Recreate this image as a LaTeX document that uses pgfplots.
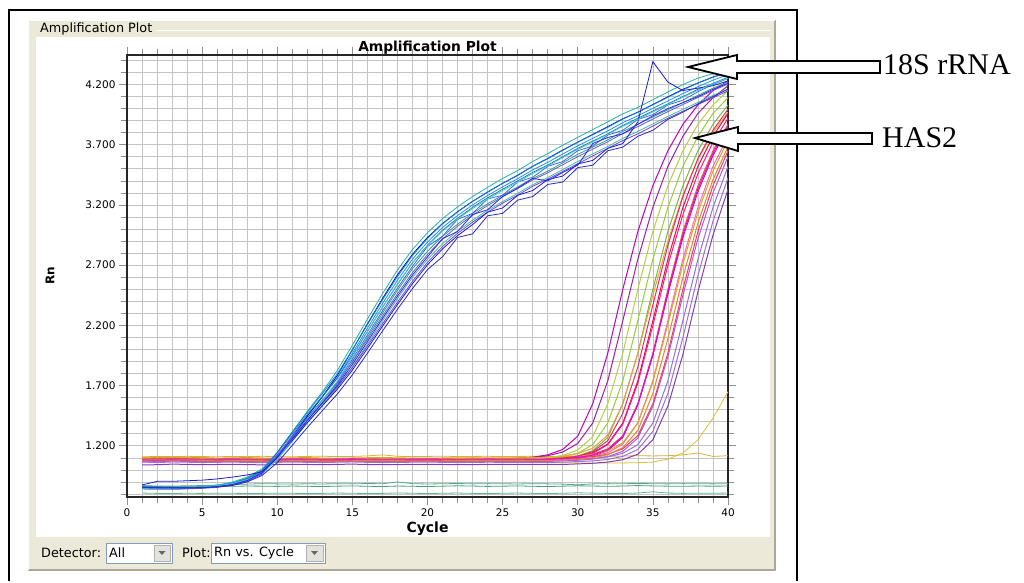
\documentclass[border=0pt]{standalone}
\usepackage{pgfplots}
\pgfplotsset{compat=1.18}
\usepackage{pgfplotstable}
\usetikzlibrary{backgrounds}
\usepackage{fontspec}
\setmainfont{DejaVu Sans}
\newfontfamily\timesfont{Liberation Serif}

\definecolor{panel}{HTML}{ECE9D8}
\definecolor{panelshadow}{HTML}{ACA899}
\definecolor{gridc}{HTML}{C4C4C4}
\definecolor{tickc}{HTML}{909090}
\definecolor{ctlborder}{HTML}{7F9DB9}
\definecolor{btnfill}{HTML}{E4E2DA}
% 18S rRNA curves
\definecolor{cS1}{HTML}{20B2AA}
\definecolor{cS2}{HTML}{1E90FF}
\definecolor{cS3}{HTML}{0000CD}
\definecolor{cS4}{HTML}{30A090}
\definecolor{cS5}{HTML}{0A84D8}
\definecolor{cS6}{HTML}{4169E1}
\definecolor{cS7}{HTML}{6A5ACD}
\definecolor{cS8}{HTML}{3CC0A0}
\definecolor{cS9}{HTML}{7B3FE4}
\definecolor{cS10}{HTML}{1C7FB5}
\definecolor{cS11}{HTML}{1A1AD0}
\definecolor{cS12}{HTML}{40C8D8}
\definecolor{cS13}{HTML}{2828E8}
\definecolor{cS14}{HTML}{2B2BB8}
% HAS2 curves
\definecolor{cH1}{HTML}{C000C0}
\definecolor{cH2}{HTML}{A020A0}
\definecolor{cH3}{HTML}{9ACD32}
\definecolor{cH4}{HTML}{7CB342}
\definecolor{cH5}{HTML}{E8A040}
\definecolor{cH6}{HTML}{DC143C}
\definecolor{cH7}{HTML}{FF1493}
\definecolor{cH8}{HTML}{D2691E}
\definecolor{cH9}{HTML}{C71585}
\definecolor{cH10}{HTML}{FF69B4}
\definecolor{cH11}{HTML}{DAA520}
\definecolor{cH12}{HTML}{BA55D3}
\definecolor{cH13}{HTML}{9370DB}
\definecolor{cH14}{HTML}{8040B0}
\definecolor{cH15}{HTML}{B8D040}
\definecolor{cH16}{HTML}{E04070}
\definecolor{cH17}{HTML}{E0306A}
\definecolor{cH18}{HTML}{F000F0}
\definecolor{cH19}{HTML}{F08030}
\definecolor{cH20}{HTML}{A070D0}
% flat curves
\definecolor{cF1}{HTML}{E0C030}
\definecolor{cF2}{HTML}{D8B040}
\definecolor{cF3}{HTML}{50A890}
\definecolor{cF4}{HTML}{60B890}
\definecolor{cF5}{HTML}{40A080}

\pgfplotstableread{
c a1 a2 a3 a4 a5 a6 a7 a8 a9 a10 a11 a12 a13 a14
1 0.857 0.853 0.843 0.865 0.855 0.850 0.846 0.866 0.856 0.861 0.875 0.847 0.856 0.852
2 0.855 0.851 0.841 0.862 0.852 0.847 0.843 0.863 0.855 0.860 0.905 0.845 0.853 0.850
3 0.857 0.851 0.841 0.860 0.850 0.845 0.841 0.861 0.852 0.857 0.905 0.847 0.851 0.851
4 0.860 0.854 0.844 0.862 0.852 0.847 0.843 0.861 0.850 0.855 0.910 0.851 0.851 0.852
5 0.864 0.858 0.850 0.864 0.857 0.851 0.847 0.864 0.853 0.858 0.915 0.858 0.854 0.853
6 0.875 0.868 0.860 0.870 0.866 0.860 0.855 0.870 0.860 0.866 0.925 0.868 0.862 0.858
7 0.898 0.890 0.882 0.886 0.888 0.882 0.873 0.885 0.876 0.888 0.940 0.886 0.878 0.870
8 0.940 0.930 0.920 0.918 0.930 0.922 0.912 0.915 0.905 0.930 0.958 0.920 0.912 0.900
9 1.010 0.995 0.980 0.975 0.998 0.990 0.975 0.972 0.965 0.995 0.985 0.975 0.975 0.955
10 1.143 1.117 1.103 1.090 1.147 1.110 1.125 1.085 1.120 1.140 1.100 1.087 1.105 1.060
11 1.316 1.283 1.276 1.250 1.313 1.270 1.277 1.237 1.264 1.300 1.244 1.253 1.257 1.204
12 1.486 1.448 1.446 1.410 1.478 1.430 1.431 1.391 1.412 1.460 1.392 1.418 1.411 1.352
13 1.648 1.604 1.608 1.560 1.634 1.580 1.576 1.536 1.552 1.610 1.532 1.574 1.556 1.492
14 1.826 1.768 1.786 1.710 1.798 1.730 1.720 1.680 1.690 1.760 1.670 1.738 1.700 1.630
15 2.036 1.968 1.996 1.900 1.998 1.920 1.895 1.855 1.849 1.950 1.829 1.938 1.875 1.789
16 2.252 2.176 2.212 2.100 2.206 2.120 2.084 2.044 2.028 2.150 2.008 2.146 2.064 1.968
17 2.462 2.381 2.422 2.300 2.411 2.320 2.276 2.236 2.212 2.350 2.192 2.351 2.256 2.152
18 2.660 2.575 2.620 2.490 2.605 2.510 2.462 2.422 2.393 2.540 2.373 2.545 2.442 2.333
19 2.830 2.750 2.790 2.670 2.780 2.690 2.638 2.598 2.566 2.720 2.546 2.720 2.618 2.506
20 2.970 2.892 2.930 2.815 2.922 2.855 2.789 2.749 2.723 2.865 2.703 2.862 2.769 2.663
21 3.086 3.013 3.046 2.940 3.043 2.940 2.918 2.878 2.855 2.990 2.835 2.983 2.920 2.770
22 3.184 3.112 3.144 3.040 3.142 3.080 3.023 2.983 2.965 3.090 2.945 3.082 2.980 2.930
23 3.270 3.200 3.230 3.130 3.230 3.130 3.114 3.074 3.057 3.180 3.037 3.170 3.120 2.960
24 3.346 3.278 3.306 3.210 3.308 3.250 3.195 3.155 3.140 3.260 3.140 3.248 3.160 3.110
25 3.420 3.350 3.380 3.280 3.380 3.280 3.268 3.228 3.215 3.330 3.175 3.320 3.270 3.130
26 3.485 3.418 3.445 3.350 3.448 3.390 3.336 3.296 3.281 3.400 3.280 3.388 3.340 3.240
27 3.561 3.491 3.521 3.420 3.521 3.430 3.408 3.368 3.355 3.470 3.320 3.461 3.420 3.270
28 3.626 3.553 3.586 3.480 3.583 3.520 3.467 3.427 3.414 3.530 3.410 3.523 3.400 3.370
29 3.696 3.623 3.656 3.550 3.653 3.560 3.534 3.494 3.478 3.600 3.440 3.593 3.470 3.390
30 3.761 3.691 3.721 3.620 3.721 3.650 3.601 3.561 3.542 3.670 3.540 3.661 3.530 3.510
31 3.826 3.753 3.786 3.680 3.783 3.690 3.664 3.624 3.607 3.730 3.570 3.723 3.710 3.530
32 3.890 3.815 3.850 3.740 3.845 3.780 3.725 3.685 3.670 3.790 3.670 3.785 3.760 3.650
33 3.956 3.883 3.916 3.810 3.913 3.820 3.793 3.753 3.735 3.860 3.710 3.853 3.790 3.680
34 4.010 3.940 3.970 3.870 3.970 3.910 3.850 3.810 3.790 3.920 3.890 3.910 3.870 3.770
35 4.074 4.002 4.034 3.930 4.032 3.950 3.913 3.873 3.855 3.980 4.390 3.972 3.940 3.820
36 4.138 4.064 4.098 3.990 4.094 4.030 3.975 3.935 3.920 4.040 4.220 4.034 4.000 3.910
37 4.200 4.125 4.160 4.050 4.155 4.070 4.034 3.994 3.978 4.100 4.150 4.095 4.050 3.970
38 4.253 4.182 4.213 4.110 4.212 4.140 4.092 4.052 4.034 4.160 4.170 4.152 4.100 4.040
39 4.290 4.236 4.262 4.170 4.260 4.200 4.150 4.110 4.090 4.210 4.190 4.206 4.160 4.100
40 4.310 4.282 4.304 4.220 4.300 4.250 4.203 4.163 4.146 4.260 4.230 4.252 4.210 4.160
}\tabS

\pgfplotstableread{
c h1 h2 h3 h4 h5 h6 h7 h8 h9 h10 h11 h12 h13 h14 h15 h16 h17 h18 h19 h20
1 1.089 1.087 1.084 1.072 1.099 1.082 1.084 1.087 1.079 1.082 1.104 1.067 1.084 1.042 1.084 1.087 1.083 1.079 1.081 1.066
2 1.092 1.088 1.087 1.073 1.102 1.083 1.087 1.088 1.082 1.083 1.107 1.068 1.087 1.043 1.087 1.088 1.086 1.080 1.084 1.061
3 1.089 1.093 1.084 1.078 1.099 1.088 1.084 1.093 1.079 1.088 1.104 1.073 1.084 1.048 1.084 1.093 1.083 1.085 1.081 1.066
4 1.091 1.091 1.086 1.076 1.101 1.086 1.086 1.091 1.081 1.086 1.106 1.071 1.086 1.046 1.086 1.091 1.085 1.083 1.083 1.064
5 1.087 1.088 1.082 1.073 1.097 1.083 1.082 1.088 1.077 1.083 1.102 1.068 1.082 1.043 1.082 1.088 1.081 1.080 1.079 1.061
6 1.083 1.090 1.078 1.075 1.093 1.085 1.078 1.090 1.073 1.085 1.098 1.070 1.078 1.045 1.078 1.090 1.077 1.082 1.075 1.063
7 1.085 1.092 1.080 1.077 1.095 1.087 1.080 1.092 1.075 1.087 1.100 1.072 1.080 1.047 1.080 1.092 1.079 1.084 1.077 1.065
8 1.087 1.089 1.082 1.074 1.097 1.084 1.082 1.089 1.077 1.084 1.102 1.069 1.082 1.044 1.082 1.089 1.081 1.081 1.079 1.062
9 1.084 1.087 1.079 1.072 1.094 1.082 1.079 1.087 1.074 1.082 1.099 1.067 1.079 1.042 1.079 1.087 1.078 1.079 1.076 1.060
10 1.082 1.090 1.077 1.075 1.092 1.085 1.077 1.090 1.072 1.085 1.097 1.070 1.077 1.045 1.077 1.090 1.076 1.082 1.074 1.063
11 1.085 1.092 1.080 1.077 1.095 1.087 1.080 1.092 1.075 1.087 1.100 1.072 1.080 1.047 1.080 1.092 1.079 1.084 1.077 1.065
12 1.087 1.090 1.082 1.075 1.097 1.085 1.082 1.090 1.077 1.085 1.102 1.070 1.082 1.045 1.082 1.090 1.081 1.082 1.079 1.063
13 1.083 1.088 1.078 1.073 1.093 1.083 1.078 1.088 1.073 1.083 1.098 1.068 1.078 1.043 1.078 1.088 1.077 1.080 1.075 1.061
14 1.081 1.091 1.076 1.076 1.091 1.086 1.076 1.091 1.071 1.086 1.096 1.071 1.076 1.046 1.076 1.091 1.075 1.083 1.073 1.064
15 1.084 1.093 1.079 1.078 1.094 1.088 1.079 1.093 1.074 1.088 1.099 1.073 1.079 1.048 1.079 1.093 1.078 1.085 1.076 1.066
16 1.086 1.090 1.081 1.075 1.096 1.085 1.081 1.090 1.076 1.085 1.101 1.070 1.081 1.045 1.081 1.090 1.080 1.082 1.078 1.063
17 1.088 1.088 1.083 1.073 1.098 1.083 1.083 1.088 1.078 1.083 1.103 1.068 1.083 1.043 1.083 1.088 1.082 1.080 1.080 1.061
18 1.085 1.089 1.080 1.074 1.095 1.084 1.080 1.089 1.075 1.084 1.100 1.069 1.080 1.044 1.080 1.089 1.079 1.081 1.077 1.062
19 1.083 1.091 1.078 1.076 1.093 1.086 1.078 1.091 1.073 1.086 1.098 1.071 1.078 1.046 1.078 1.091 1.077 1.083 1.075 1.064
20 1.082 1.092 1.077 1.077 1.092 1.087 1.077 1.092 1.072 1.087 1.097 1.072 1.077 1.047 1.077 1.092 1.076 1.084 1.074 1.065
21 1.084 1.090 1.079 1.075 1.094 1.085 1.079 1.090 1.074 1.085 1.099 1.070 1.079 1.045 1.079 1.090 1.078 1.082 1.076 1.063
22 1.085 1.088 1.080 1.073 1.095 1.083 1.080 1.088 1.075 1.083 1.100 1.068 1.080 1.043 1.080 1.088 1.079 1.080 1.077 1.061
23 1.086 1.089 1.081 1.074 1.096 1.084 1.081 1.089 1.076 1.084 1.101 1.069 1.081 1.044 1.081 1.089 1.080 1.081 1.078 1.062
24 1.084 1.091 1.079 1.076 1.094 1.086 1.079 1.091 1.074 1.086 1.099 1.071 1.079 1.046 1.079 1.091 1.078 1.083 1.076 1.064
25 1.090 1.092 1.080 1.075 1.095 1.085 1.080 1.090 1.075 1.085 1.100 1.070 1.080 1.045 1.080 1.090 1.080 1.082 1.078 1.063
26 1.095 1.097 1.082 1.075 1.095 1.086 1.080 1.090 1.075 1.085 1.101 1.070 1.080 1.045 1.085 1.090 1.081 1.082 1.078 1.063
27 1.105 1.105 1.087 1.080 1.100 1.087 1.082 1.090 1.075 1.086 1.101 1.070 1.080 1.045 1.090 1.090 1.084 1.082 1.078 1.063
28 1.125 1.118 1.095 1.085 1.105 1.092 1.087 1.095 1.080 1.087 1.102 1.070 1.080 1.045 1.100 1.090 1.089 1.088 1.079 1.063
29 1.170 1.148 1.108 1.095 1.115 1.100 1.095 1.100 1.085 1.092 1.107 1.075 1.082 1.045 1.120 1.095 1.098 1.093 1.084 1.064
30 1.280 1.220 1.138 1.115 1.135 1.113 1.108 1.110 1.095 1.100 1.115 1.080 1.087 1.050 1.165 1.100 1.114 1.103 1.090 1.069
31 1.550 1.390 1.210 1.160 1.180 1.143 1.138 1.130 1.115 1.113 1.128 1.090 1.095 1.055 1.275 1.110 1.152 1.123 1.102 1.075
32 1.970 1.740 1.390 1.270 1.290 1.215 1.210 1.175 1.160 1.143 1.158 1.110 1.108 1.065 1.550 1.130 1.243 1.168 1.127 1.087
33 2.500 2.240 1.740 1.550 1.550 1.390 1.380 1.285 1.270 1.215 1.225 1.155 1.138 1.085 1.970 1.175 1.470 1.278 1.185 1.112
34 2.980 2.750 2.240 1.970 1.970 1.740 1.720 1.550 1.540 1.390 1.390 1.265 1.210 1.130 2.500 1.285 1.855 1.545 1.328 1.170
35 3.360 3.180 2.750 2.500 2.450 2.240 2.200 1.970 1.950 1.740 1.730 1.530 1.390 1.250 2.980 1.550 2.370 1.960 1.635 1.320
36 3.650 3.520 3.180 2.980 2.900 2.750 2.700 2.500 2.460 2.240 2.210 1.940 1.740 1.530 3.360 1.970 2.865 2.480 2.090 1.635
37 3.870 3.770 3.520 3.360 3.280 3.180 3.120 2.980 2.930 2.750 2.710 2.450 2.240 1.960 3.650 2.500 3.270 2.955 2.600 2.100
38 4.030 3.960 3.770 3.650 3.580 3.520 3.460 3.360 3.310 3.180 3.140 2.920 2.750 2.480 3.870 2.980 3.585 3.335 3.050 2.615
39 4.150 4.090 3.960 3.870 3.800 3.770 3.720 3.650 3.610 3.520 3.480 3.300 3.180 2.950 4.030 3.360 3.820 3.630 3.410 3.065
40 4.230 4.190 4.090 4.030 3.970 3.960 3.920 3.870 3.840 3.770 3.740 3.600 3.520 3.330 4.150 3.650 3.995 3.855 3.685 3.425
}\tabH

\pgfplotstableread{
c f1 f2 f3 f4 f5
1 1.078 1.108 0.870 0.808 0.862
2 1.076 1.112 0.866 0.805 0.858
3 1.077 1.110 0.866 0.804 0.857
4 1.074 1.113 0.868 0.806 0.858
5 1.076 1.111 0.870 0.805 0.860
6 1.078 1.109 0.874 0.807 0.862
7 1.075 1.112 0.878 0.806 0.864
8 1.073 1.110 0.882 0.804 0.866
9 1.076 1.113 0.886 0.805 0.865
10 1.077 1.111 0.884 0.807 0.863
11 1.074 1.109 0.882 0.806 0.866
12 1.075 1.112 0.885 0.803 0.864
13 1.078 1.114 0.883 0.805 0.862
14 1.076 1.110 0.886 0.808 0.865
15 1.074 1.112 0.884 0.806 0.867
16 1.075 1.116 0.887 0.804 0.864
17 1.077 1.125 0.885 0.805 0.862
18 1.076 1.113 0.900 0.809 0.866
19 1.074 1.110 0.886 0.806 0.864
20 1.075 1.112 0.883 0.804 0.862
21 1.077 1.114 0.885 0.806 0.865
22 1.076 1.111 0.887 0.808 0.868
23 1.074 1.112 0.884 0.805 0.866
24 1.075 1.113 0.886 0.803 0.863
25 1.073 1.111 0.885 0.806 0.865
26 1.072 1.112 0.883 0.808 0.867
27 1.070 1.113 0.886 0.805 0.864
28 1.065 1.111 0.884 0.804 0.862
29 1.060 1.112 0.882 0.806 0.865
30 1.058 1.114 0.876 0.810 0.868
31 1.057 1.112 0.884 0.807 0.866
32 1.057 1.113 0.886 0.805 0.864
33 1.058 1.115 0.885 0.804 0.866
34 1.060 1.118 0.888 0.808 0.870
35 1.065 1.116 0.885 0.818 0.867
36 1.090 1.118 0.884 0.808 0.865
37 1.140 1.125 0.886 0.805 0.864
38 1.250 1.140 0.885 0.807 0.866
39 1.430 1.112 0.884 0.806 0.865
40 1.650 1.118 0.886 0.808 0.866
}\tabF

\begin{document}
\begin{tikzpicture}[x=1pt,y=1pt]
\begin{axis}[
  scale only axis, width=601pt, height=442pt,
  xmin=0, xmax=40, ymin=0.775, ymax=4.445,
  xtick={0,5,...,40},
  minor xtick={0,1,...,40},
  ytick={1.2,1.7,2.2,2.7,3.2,3.7,4.2},
  minor ytick={0.8,0.9,1.0,1.1,1.3,1.4,1.5,1.6,1.8,1.9,2.0,2.1,2.3,2.4,2.5,2.6,2.8,2.9,3.0,3.1,3.3,3.4,3.5,3.6,3.8,3.9,4.0,4.1,4.3,4.4},
  grid=both,
  major grid style={draw=gridc, line width=0.7pt},
  minor grid style={draw=gridc, line width=0.7pt},
  tick align=outside,
  major tick length=8pt, minor tick length=6pt,
  every tick/.style={draw=tickc, line width=0.7pt},
  axis line style={draw=black!85, line width=1.4pt},
  tick label style={font=\fontsize{10.5}{12}\selectfont},
  /pgf/number format/assume math mode=true,
  yticklabel style={/pgf/number format/.cd, fixed, fixed zerofill, precision=3},
  xticklabel style={/pgf/number format/.cd, fixed, precision=0},
  title={Amplification Plot},
  title style={font=\bfseries\fontsize{13.8}{15}\selectfont, at={(axis description cs:0.5,1)}, anchor=south, yshift=-9pt},
  xlabel={Cycle},
  xlabel style={font=\bfseries\fontsize{14}{16}\selectfont, at={(axis description cs:0.5,-0.0724)}, anchor=center},
  ylabel={Rn},
  ylabel style={font=\bfseries\fontsize{12}{14}\selectfont, at={(axis description cs:-0.128,0.5)}, anchor=center},
  no markers,
]
\pgfplotsinvokeforeach{1,...,5}{
  \addplot[color=cF#1, line width=0.8pt] table[x=c, y=f#1]{\tabF};
}
\pgfplotsinvokeforeach{1,...,20}{
  \addplot[color=cH#1, line width=1pt] table[x=c, y=h#1]{\tabH};
}
\pgfplotsinvokeforeach{1,...,14}{
  \addplot[color=cS#1, line width=0.8pt] table[x=c, y=a#1]{\tabS};
}
\coordinate (O) at (rel axis cs:0,0);
\end{axis}

\begin{pgfonlayer}{background}
\begin{scope}[shift={(O)}]
\fill[white] (-127,-84) rectangle (897,497);
% outer frame of the figure
\draw[line width=2pt] (-118,-84) -- (-118,487) -- (670,487) -- (670,-84);
% window panel
\fill[panel] (-99,-73) rectangle (648,477);
\draw[panelshadow, line width=1.2pt] (-99,-73) -- (648,-73) -- (648,477);
\draw[white, line width=0.8pt] (-99,-73) -- (-99,477) -- (648,477);
\draw[white, line width=0.8pt] (29,467) -- (644,467);
\fill[white] (-91,-40) rectangle (643,460);
\node[anchor=west, inner sep=0, font=\fontsize{12.8}{14}\selectfont] at (-87,468) {Amplification Plot};
% bottom controls
\node[anchor=west, inner sep=0, font=\fontsize{12.8}{14}\selectfont] at (-86,-56) {Detector:};
\draw[ctlborder, fill=white] (-21,-66) rectangle (45,-46);
\node[anchor=west, inner sep=0, font=\fontsize{12.8}{14}\selectfont] at (-18,-56) {All};
\draw[gray!60, fill=btnfill] (27,-64) rectangle (43,-48);
\fill[gray!80!black] (31.5,-54) -- (38.5,-54) -- (35,-58) -- cycle;
\node[anchor=west, inner sep=0, font=\fontsize{12.8}{14}\selectfont] at (55,-56) {Plot:};
\draw[ctlborder, fill=white] (84,-66) rectangle (198,-46);
\node[anchor=west, inner sep=0, font=\fontsize{12.8}{14}\selectfont] at (87,-56) {Rn vs. Cycle};
\draw[gray!60, fill=btnfill] (179,-64) rectangle (196,-48);
\fill[gray!80!black] (184,-54) -- (191,-54) -- (187.5,-58) -- cycle;
\end{scope}
\end{pgfonlayer}

\begin{scope}[shift={(O)}]
\path (-127,-84) rectangle (897,497);
% annotation arrows
\draw[line width=1.8pt, fill=white, line join=miter] (561,430) -- (610,442) -- (610,436) -- (753,436) -- (753,424) -- (610,424) -- (610,418) -- cycle;
\node[anchor=base west, inner sep=0, font=\timesfont\fontsize{30}{32}\selectfont] at (756,422) {18S rRNA};
\draw[line width=1.8pt, fill=white, line join=miter] (568,359) -- (611,370) -- (611,364) -- (745,364) -- (745,353) -- (611,353) -- (611,346) -- cycle;
\node[anchor=base west, inner sep=0, font=\timesfont\fontsize{30}{32}\selectfont] at (755,349) {HAS2};
\end{scope}
\end{tikzpicture}
\end{document}
